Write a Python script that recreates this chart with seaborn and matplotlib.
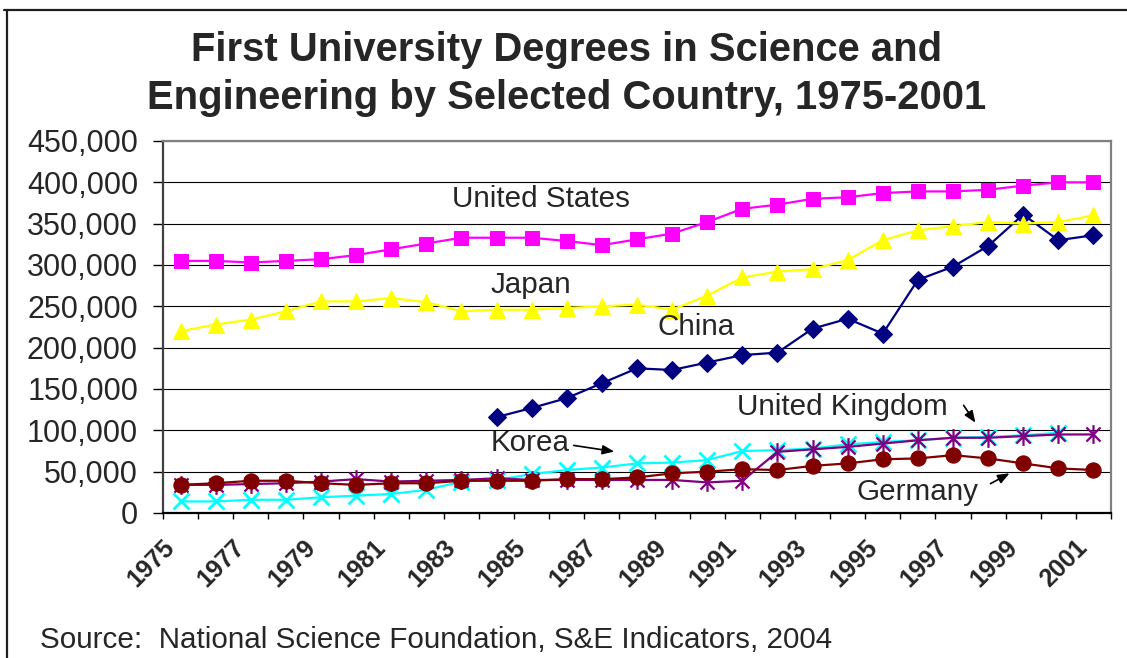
import numpy as np
import pandas as pd
import matplotlib
matplotlib.use("Agg")
import matplotlib.pyplot as plt
import matplotlib.transforms as mtransforms
from matplotlib.path import Path
from matplotlib.lines import Line2D
from matplotlib.ticker import FuncFormatter, FixedLocator
import seaborn as sns

# ---------------- data ----------------
years = list(range(1975, 2002))
nan = np.nan
united_states = [305000, 305000, 303000, 305000, 307000, 312000, 319000, 326000, 333000, 333000,
                 333000, 329000, 324000, 331000, 338000, 352000, 368000, 373000, 380000, 382000,
                 387000, 389000, 389000, 391000, 396000, 400000, 400000]
japan = [220000, 228000, 234000, 244000, 256000, 256000, 260000, 255000, 244000, 246000,
         246000, 248000, 250000, 252000, 246000, 263000, 285000, 292000, 295000, 306000,
         330000, 342000, 347000, 352000, 350000, 352000, 360000]
china = [nan, nan, nan, nan, nan, nan, nan, nan, nan, 116000,
         127000, 139000, 157000, 175000, 173000, 182000, 191000, 194000, 223000, 235000,
         217000, 282000, 298000, 323000, 361000, 330000, 336000]
korea = [14000, 14000, 16000, 16000, 19000, 21000, 23000, 28000, 38000, 40000,
         47000, 52000, 55000, 60000, 61000, 64000, 75000, 76000, 78000, 83000,
         86000, 88000, 91000, 92000, 94000, 97000, nan]
united_kingdom = [34000, 34000, 35000, 36000, 38000, 41000, 38000, 39000, 40000, 42000,
                  40000, 40000, 40000, 40000, 40000, 37000, 39000, 74000, 77000, 80000,
                  84000, 88000, 91000, 91000, 93000, 95000, 95000]
germany = [34000, 36000, 39000, 39000, 36000, 34000, 36000, 36000, 39000, 39000,
           39000, 41000, 41000, 43000, 48000, 50000, 53000, 52000, 57000, 60000,
           65000, 66000, 70000, 66000, 60000, 54000, 52000]
year_labels = [str(y) for y in years[::2]]
y_ticks = list(range(0, 450001, 50000))

title = "First University Degrees in Science and\nEngineering by Selected Country, 1975-2001"
source = "Source:  National Science Foundation, S&E Indicators, 2004"

# ---------------- style ----------------
sns.set_style("white")
plt.rcParams['font.family'] = ['Liberation Sans', 'DejaVu Sans']

W, H, DPI = 1127, 658, 100
fig = plt.figure(figsize=(W / DPI, H / DPI), dpi=DPI)
L, R, T, B = 163, 1111, 141, 513
ax = fig.add_axes([L / W, 1 - B / H, (R - L) / W, (B - T) / H])

# asterisk marker like Excel's (X plus vertical bar)
ast = Path([(0, -1), (0, 1), (-0.75, -0.75), (0.75, 0.75), (-0.75, 0.75), (0.75, -0.75)],
           [Path.MOVETO, Path.LINETO, Path.MOVETO, Path.LINETO, Path.MOVETO, Path.LINETO])

xi = np.arange(len(years))
series = [
    ("United States", united_states, "#FF00FF", "s", 10.5, dict()),
    ("China", china, "#000080", "D", 9, dict()),
    ("Japan", japan, "#FFFF00", "^", 12, dict()),
    ("Korea", korea, "#00FFFF", "x", 11.5, dict(markeredgewidth=2)),
    ("United Kingdom", united_kingdom, "#800080", ast, 13.5, dict(markeredgewidth=1.6)),
    ("Germany", germany, "#800000", "o", 11, dict()),
]
for name, vals, col, mk, ms, extra in series:
    df = pd.DataFrame({"x": xi, "y": vals}).dropna()
    sns.lineplot(data=df, x="x", y="y", ax=ax, color=col, linewidth=1.6,
                 marker=mk, markersize=ms, markerfacecolor=col, markeredgecolor=col,
                 legend=False, clip_on=False, **extra)

ax.set_xlim(-0.5, len(years) - 0.5)
ax.set_ylim(0, 450000)
ax.set_xlabel("")
ax.set_ylabel("")

# y axis
ax.set_yticks(y_ticks)
ax.yaxis.set_major_formatter(FuncFormatter(lambda v, p: f"{int(v):,}"))
ax.tick_params(axis="y", which="major", direction="out", length=7, width=1,
               color="black", labelsize=22, pad=11, left=True)
ax.grid(axis="y", color="black", linewidth=0.8)
ax.set_axisbelow(True)

# x axis: labels at every other category center, tick marks at boundaries
ax.set_xticks(xi[::2])
ax.set_xticklabels(year_labels, rotation=45, ha="right", va="top",
                   rotation_mode="anchor", fontweight="bold", fontsize=18)
ax.xaxis.set_minor_locator(FixedLocator(np.arange(-0.5, len(years), 1.0)))
ax.tick_params(axis="x", which="major", length=0, pad=16)
ax.tick_params(axis="x", which="minor", direction="out", length=4.5, width=1,
               color="black", bottom=True)
offset = mtransforms.ScaledTranslation(-18 / DPI, 0, fig.dpi_scale_trans)
for lab in ax.get_xticklabels():
    lab.set_transform(lab.get_transform() + offset)

for s in ["top", "right"]:
    ax.spines[s].set_color("#808080")
    ax.spines[s].set_linewidth(1.6)
ax.spines["left"].set_color("#404040")
ax.spines["left"].set_linewidth(1.6)
ax.spines["bottom"].set_color("black")
ax.spines["bottom"].set_linewidth(1.6)

# annotations (series labels)
def px(x, y):
    return (x / W, 1 - y / H)

txt_kw = dict(fontsize=21.3, ha="center", va="center", transform=fig.transFigure)
fig.text(*px(541, 199), "United States", **txt_kw)
fig.text(*px(531, 285), "Japan", **txt_kw)
fig.text(*px(696, 327), "China", **txt_kw)
fig.text(*px(530, 443), "Korea", **txt_kw)
fig.text(*px(842, 407), "United Kingdom", **txt_kw)
fig.text(*px(918, 492), "Germany", **txt_kw)

arrow_kw = dict(arrowstyle="-|>,head_length=0.5,head_width=0.2", color="black", lw=1.2)
for (x0, y0), (x1, y1) in [((571, 445), (617, 452)),
                           ((962, 403), (977, 425)),
                           ((988, 485), (1012, 472))]:
    fig.add_artist(matplotlib.patches.FancyArrowPatch(px(x0, y0), px(x1, y1),
                                                      transform=fig.transFigure,
                                                      mutation_scale=14, **arrow_kw))

# title and source
fig.text(*px(567, 74), title, fontsize=28.8, fontweight="bold", ha="center", va="center",
         linespacing=1.32)
fig.text(*px(40, 640), source, fontsize=21.3, ha="left", va="center")

# outer frame (top and left edges visible)
fig.add_artist(Line2D([4 / W, 1.0], [1 - 10 / H, 1 - 10 / H], transform=fig.transFigure,
                      color="#202020", linewidth=1.6))
fig.add_artist(Line2D([7 / W, 7 / W], [1 - 10 / H, 0.0], transform=fig.transFigure,
                      color="#202020", linewidth=1.6))

fig.savefig("out.png", dpi=DPI)
